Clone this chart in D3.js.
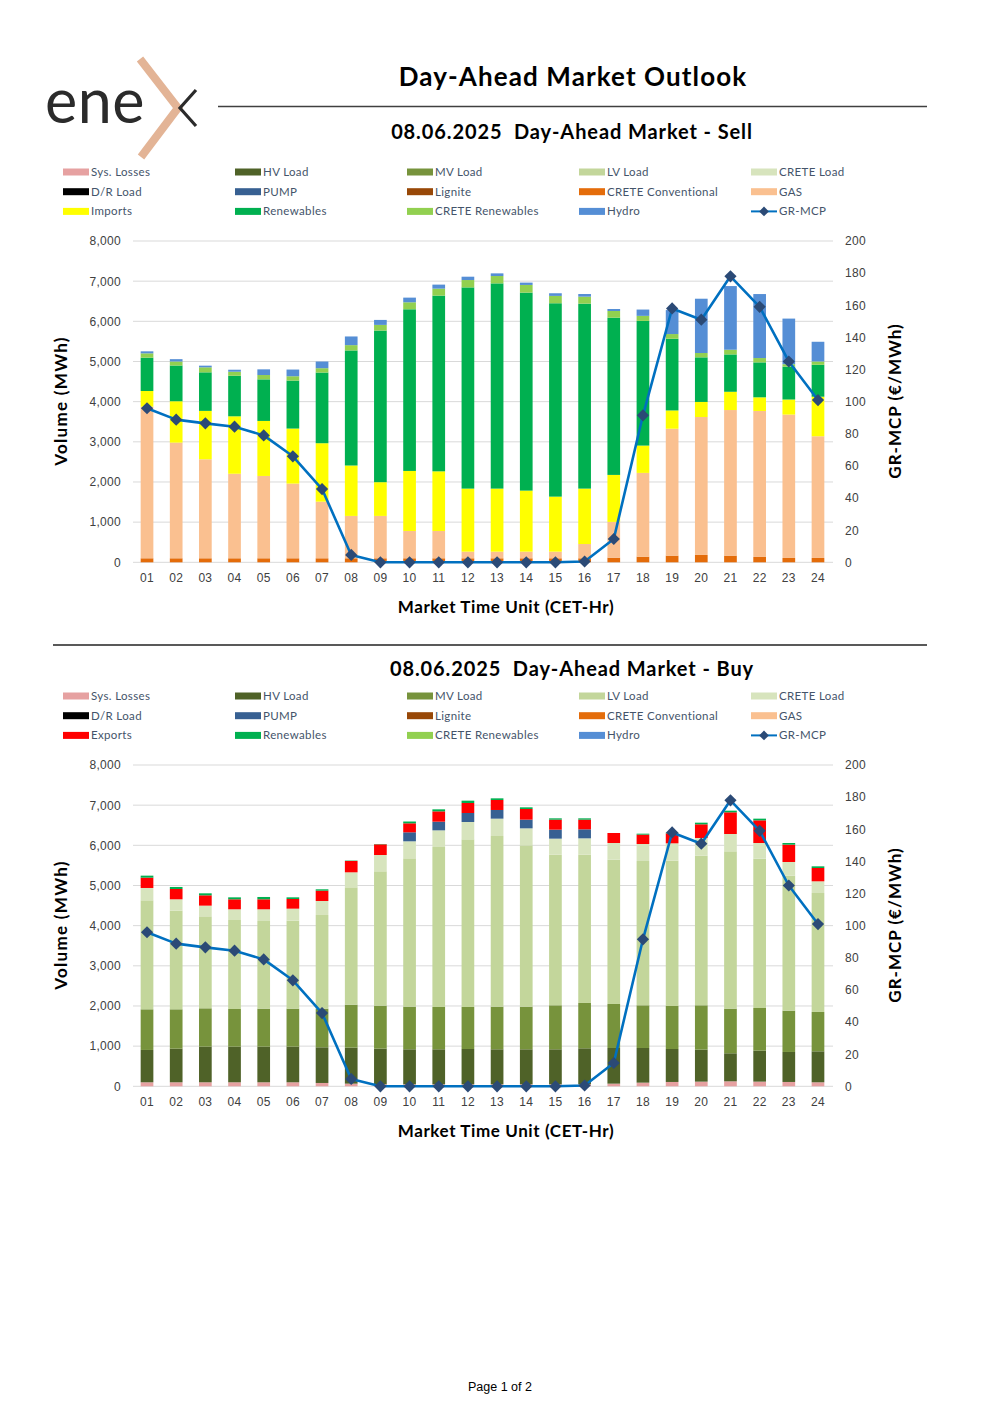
<!DOCTYPE html>
<html lang="en">
<head>
<meta charset="UTF-8">
<title>Day-Ahead Market Outlook</title>
<script src="https://d3js.org/d3.v7.min.js"></script>
<style>
    body { margin: 0; background: #fff; font-family: Lato, "Open Sans", sans-serif; }
    .tick-label { font-size: 12px; fill: #404040; letter-spacing: 0.3px; }
    .axis-title { font-size: 17px; font-weight: bold; fill: #000; letter-spacing: 0.6px; }
    .legend-text { font-size: 11.5px; fill: #44546a; letter-spacing: 0.35px; }
    .grid line { stroke: #d9d9d9; stroke-width: 1; }
</style>
</head>
<body>
<svg id="page" width="1000" height="1415"></svg>
<script>
const hours = ["01","02","03","04","05","06","07","08","09","10","11","12",
               "13","14","15","16","17","18","19","20","21","22","23","24"];

// GR-MCP (€/MWh)
const mcp = [95.9, 88.8, 86.5, 84.4, 79.0, 66.0, 45.6, 4.6, 0, 0, 0, 0,
             0, 0, 0, 0.5, 14.5, 91.5, 158, 151, 178, 159, 125, 101];

// Sell side (MWh)
const sellCreteConv = [100,100,100,100,100,100,100,100,100,100,100,100,
                       100,100,100,100,116,141,166,183,166,133,108,108];
const sellGas = [3775,2880,2465,2105,2050,1860,1410,1055,1055,680,680,165,
                 165,165,165,355,890,2085,3160,3435,3625,3635,3570,3030];
const sellImports = [390,1030,1205,1430,1370,1370,1455,1255,840,1495,1485,1570,
                     1570,1520,1370,1380,1170,680,455,375,455,340,375,985];
const sellRenewables = [830,890,960,1010,1035,1195,1760,2865,3775,4025,4375,5010,
                        5110,4930,4815,4605,3915,3105,1785,1110,930,870,820,795];
const sellCreteRen = [108,100,125,100,108,108,108,132,141,174,174,183,
                      183,191,183,174,166,125,117,108,117,108,60,83];
const sellHydro = [50,58,41,50,141,166,166,216,124,116,100,83,
                   66,58,66,66,50,157,597,1352,1585,1593,1135,490];

// Buy side (MWh)
const buySysLosses = [100,100,100,100,100,100,83,66,50,50,50,50,
                      50,50,50,50,66,91,108,116,124,116,108,100];
const buyHV = [805,838,888,888,888,888,888,897,888,871,871,879,
               871,871,871,896,888,863,821,797,698,772,747,771];
const buyMV = [1012,979,954,937,946,946,963,1070,1070,1062,1054,1046,
               1062,1062,1096,1129,1096,1063,1071,1104,1112,1062,1029,980];
const buyLV = [2714,2456,2290,2216,2182,2190,2332,2921,3345,3693,3984,4174,
               4249,4017,3751,3693,3593,3593,3618,3726,3917,3718,3361,2962];
const buyCreteLoad = [307,283,266,266,291,299,348,374,406,424,414,432,
                      432,423,398,406,415,423,432,440,431,390,340,291];
const buyPump = [0,0,0,0,0,0,0,0,0,224,216,224,
                 216,216,224,224,0,0,0,0,0,0,0,0];
const buyExports = [257,257,257,249,249,241,257,282,266,224,257,249,
                    249,266,249,241,249,233,249,340,540,564,432,332];
const buyRenewables = [50,50,50,49,58,41,34,10,8,45,50,58,
                       41,41,33,33,0,24,20,41,41,42,41,41];

const colors = {
    "Sys. Losses": "#e6a1a1", "HV Load": "#4f6228", "MV Load": "#77933c",
    "LV Load": "#c3d69b", "CRETE Load": "#d7e4bd", "D/R Load": "#000000",
    "PUMP": "#376092", "Lignite": "#984807", "CRETE Conventional": "#e46c0a",
    "GAS": "#fac090", "Imports": "#ffff00", "Exports": "#ff0000",
    "Renewables": "#00b050", "CRETE Renewables": "#92d050", "Hydro": "#558ed5"
};

const sellSeries = [
    {name: "CRETE Conventional", values: sellCreteConv},
    {name: "GAS", values: sellGas},
    {name: "Imports", values: sellImports},
    {name: "Renewables", values: sellRenewables},
    {name: "CRETE Renewables", values: sellCreteRen},
    {name: "Hydro", values: sellHydro}
];
const buySeries = [
    {name: "Sys. Losses", values: buySysLosses},
    {name: "HV Load", values: buyHV},
    {name: "MV Load", values: buyMV},
    {name: "LV Load", values: buyLV},
    {name: "CRETE Load", values: buyCreteLoad},
    {name: "PUMP", values: buyPump},
    {name: "Exports", values: buyExports},
    {name: "Renewables", values: buyRenewables}
];

const sellLegend = ["Sys. Losses","HV Load","MV Load","LV Load","CRETE Load",
                    "D/R Load","PUMP","Lignite","CRETE Conventional","GAS",
                    "Imports","Renewables","CRETE Renewables","Hydro","GR-MCP"];
const buyLegend = ["Sys. Losses","HV Load","MV Load","LV Load","CRETE Load",
                   "D/R Load","PUMP","Lignite","CRETE Conventional","GAS",
                   "Exports","Renewables","CRETE Renewables","Hydro","GR-MCP"];

const svg = d3.select("#page");
const lineColor = "#0070c0", markerColor = "#2b4a76";

// ---- logo ----
const logo = svg.append("g");
logo.append("text").attr("x", 45).attr("y", 123)
    .style("font-family", "Lato, sans-serif").style("font-weight", 400)
    .style("font-size", "61px").style("letter-spacing", "0.5px")
    .attr("fill", "#2b2b2b").text("ene");
logo.append("path").attr("d", "M140,59 L178,108 L141,157")
    .attr("fill", "none").attr("stroke", "#e3b496").attr("stroke-width", 8);
logo.append("path").attr("d", "M196,90 L180,108 L196,126")
    .attr("fill", "none").attr("stroke", "#2b2b2b").attr("stroke-width", 3.2);

// ---- header ----
svg.append("text").attr("x", 573).attr("y", 86).attr("text-anchor", "middle")
    .style("font-size", "26px").style("font-weight", "bold").style("letter-spacing", "1.1px")
    .text("Day-Ahead Market Outlook");
svg.append("line").attr("x1", 218).attr("x2", 927).attr("y1", 106.5).attr("y2", 106.5)
    .attr("stroke", "#404040").attr("stroke-width", 1.3);
svg.append("line").attr("x1", 53).attr("x2", 927).attr("y1", 645).attr("y2", 645)
    .attr("stroke", "#595959").attr("stroke-width", 2);
svg.append("text").attr("x", 500).attr("y", 1391).attr("text-anchor", "middle")
    .style("font-family", "'Liberation Sans', Arial, sans-serif").style("font-size", "12.5px")
    .text("Page 1 of 2");

const x = d3.scaleBand().domain(hours).range([132.5, 832.5]).paddingInner(0.565).paddingOuter(0.28);

function drawChart(top, subtitleY, subtitle, series, legendItems) {
    const g = svg.append("g");
    const y = d3.scaleLinear().domain([0, 8000]).range([top + 562.3, top + 241]);
    const y2 = d3.scaleLinear().domain([0, 200]).range(y.range());

    g.append("text").attr("x", 572).attr("y", subtitleY).attr("text-anchor", "middle")
        .style("font-size", "20px").style("font-weight", "bold").style("letter-spacing", "0.9px")
        .style("white-space", "pre").text(subtitle);

    // legend
    legendItems.forEach((name, i) => {
        const lx = 63 + (i % 5) * 172, ly = top + 172 + Math.floor(i / 5) * 19.7;
        if (name === "GR-MCP") {
            g.append("line").attr("x1", lx).attr("x2", lx + 26).attr("y1", ly).attr("y2", ly)
                .attr("stroke", lineColor).attr("stroke-width", 2);
            g.append("path").attr("d", d3.symbol(d3.symbolDiamond2, 60)())
                .attr("transform", `translate(${lx + 13},${ly})`).attr("fill", markerColor);
        } else {
            g.append("rect").attr("x", lx).attr("y", ly - 3.5).attr("width", 26).attr("height", 7)
                .attr("fill", colors[name]);
        }
        g.append("text").attr("class", "legend-text").attr("x", lx + 28).attr("y", ly + 4).text(name);
    });

    // gridlines
    g.append("g").attr("class", "grid")
        .selectAll("line").data(y.ticks(8)).join("line")
        .attr("x1", 133).attr("x2", 833).attr("y1", d => y(d)).attr("y2", d => y(d));

    // left axis
    const ya = g.append("g").attr("transform", "translate(133,0)")
        .call(d3.axisLeft(y).ticks(8).tickFormat(d3.format(",")).tickSize(0).tickPadding(12));
    ya.select(".domain").remove();
    ya.selectAll("text").attr("class", "tick-label");

    // right axis
    const yb = g.append("g").attr("transform", "translate(833,0)")
        .call(d3.axisRight(y2).ticks(10).tickSize(0).tickPadding(12));
    yb.select(".domain").remove();
    yb.selectAll("text").attr("class", "tick-label");

    // x axis
    const xa = g.append("g").attr("transform", `translate(0,${top + 562.3})`)
        .call(d3.axisBottom(x).tickSize(0).tickPadding(11));
    xa.select(".domain").remove();
    xa.selectAll("text").attr("class", "tick-label");

    // axis titles
    g.append("text").attr("class", "axis-title").attr("text-anchor", "middle")
        .attr("x", 506).attr("y", top + 613).text("Market Time Unit (CET-Hr)");
    g.append("text").attr("class", "axis-title").attr("text-anchor", "middle")
        .style("letter-spacing", "1.3px")
        .attr("transform", `translate(67,${top + 401}) rotate(-90)`).text("Volume (MWh)");
    g.append("text").attr("class", "axis-title").attr("text-anchor", "middle")
        .style("letter-spacing", "1px")
        .attr("transform", `translate(901,${top + 401}) rotate(-90)`).text("GR-MCP (€/MWh)");

    // stacked bars
    const rows = hours.map((h, i) => {
        const r = {hour: h};
        series.forEach(s => r[s.name] = s.values[i]);
        return r;
    });
    const stacked = d3.stack().keys(series.map(s => s.name))(rows);
    g.append("g").selectAll("g").data(stacked).join("g")
        .attr("fill", d => colors[d.key])
        .selectAll("rect").data(d => d).join("rect")
        .attr("x", d => x(d.data.hour))
        .attr("width", x.bandwidth())
        .attr("y", d => y(d[1]))
        .attr("height", d => Math.max(0, y(d[0]) - y(d[1])));

    // price line
    const cx = h => x(h) + x.bandwidth() / 2;
    g.append("path").datum(mcp)
        .attr("fill", "none").attr("stroke", lineColor).attr("stroke-width", 2.6)
        .attr("stroke-linejoin", "round")
        .attr("d", d3.line().x((d, i) => cx(hours[i])).y(d => y2(d)));
    g.append("g").selectAll("path").data(mcp).join("path")
        .attr("d", d3.symbol(d3.symbolDiamond2, 95)())
        .attr("transform", (d, i) => `translate(${cx(hours[i])},${y2(d)})`)
        .attr("fill", markerColor);
}

drawChart(0, 139, "08.06.2025  Day-Ahead Market - Sell", sellSeries, sellLegend);
drawChart(524, 676, "08.06.2025  Day-Ahead Market - Buy", buySeries, buyLegend);
</script>
</body>
</html>
